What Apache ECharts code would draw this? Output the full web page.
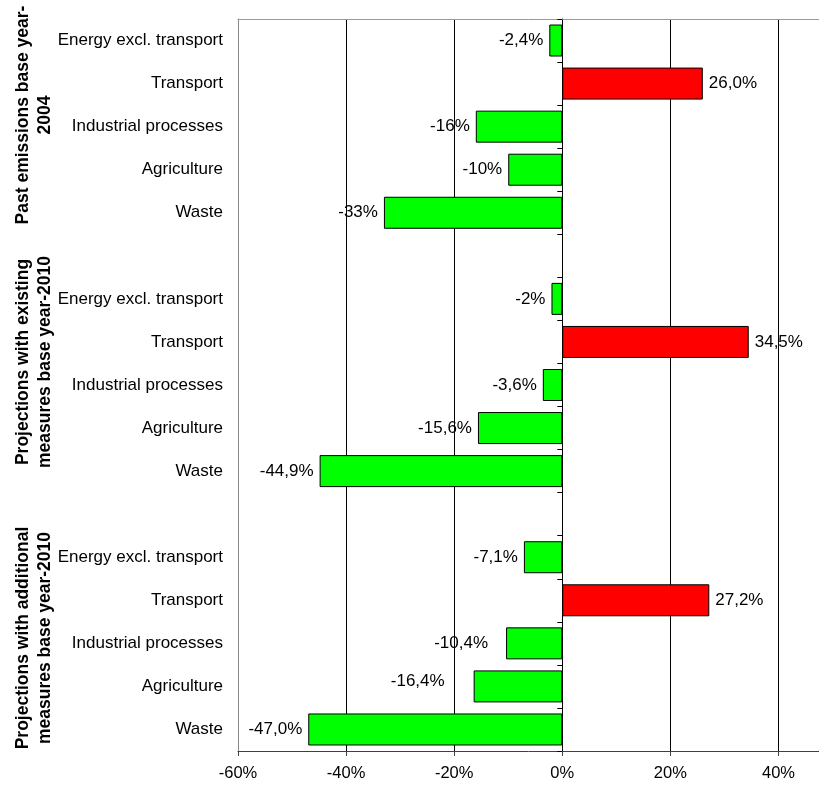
<!DOCTYPE html>
<html>
<head>
<meta charset="utf-8">
<script src="https://cdn.jsdelivr.net/npm/echarts@6/dist/echarts.min.js"></script>
<style>html,body{margin:0;padding:0;background:#fff;}#c{width:819px;height:785px;}</style>
</head>
<body>
<div id="c"></div>
<script>
var sectors = ['Energy excl. transport', 'Transport', 'Industrial processes', 'Agriculture', 'Waste'];
var groups = ['Past emissions base year-\n2004', 'Projections with existing\nmeasures base year-2010', 'Projections with additional\nmeasures base year-2010'];
var pastValues = [-2.4, 26.0, -16, -10, -33];
var existingValues = [-2, 34.5, -3.6, -15.6, -44.9];
var additionalValues = [-7.1, 27.2, -10.4, -16.4, -47.0];
var pastLabels = ['-2,4%', '26,0%', '-16%', '-10%', '-33%'];
var existingLabels = ['-2%', '34,5%', '-3,6%', '-15,6%', '-44,9%'];
var additionalLabels = ['-7,1%', '27,2%', '-10,4%', '-16,4%', '-47,0%'];

var categories = [], data = [];
var allVals = [pastValues, existingValues, additionalValues];
var allLabels = [pastLabels, existingLabels, additionalLabels];
// manual label nudges seen in the reference (group, sector) -> [dx, dy]
var labelNudge = { '2-2': [-12, 0], '2-3': [-23, -5] };
for (var g = 0; g < 3; g++) {
  for (var i = 0; i < sectors.length; i++) {
    categories.push(sectors[i]);
    var v = allVals[g][i];
    data.push({
      value: v,
      itemStyle: { color: v >= 0 ? '#ff0000' : '#00ff00' },
      label: { position: v >= 0 ? 'right' : 'left', formatter: allLabels[g][i],
        offset: labelNudge[g + '-' + i] || [0, 0] }
    });
  }
  if (g < 2) { categories.push(' '); data.push({ value: null }); }
}

var chart = echarts.init(document.getElementById('c'), null, { renderer: 'canvas' });
var groupCenters = [115, 362, 638];
var graphics = groups.map(function (t, k) {
  return {
    type: 'text', x: 34, y: groupCenters[k], rotation: Math.PI / 2,
    style: { text: t, font: 'bold 17.5px "Liberation Sans", Arial, sans-serif', fill: '#000',
      textAlign: 'center', textVerticalAlign: 'middle', lineHeight: 22 }
  };
});
chart.setOption({
  animation: false,
  graphic: graphics,
  grid: { left: 238, top: 19, right: 0, height: 732, show: false },
  xAxis: [{
    type: 'value', min: -60, max: 47.5, interval: 20, position: 'bottom',
    axisLine: { show: true, onZero: false, lineStyle: { color: '#404040', width: 1 } },
    axisTick: { show: true, length: 5, lineStyle: { color: '#404040' } },
    axisLabel: { formatter: '{value}%', showMaxLabel: false, color: '#000', fontSize: 16.5, margin: 14,
      fontFamily: '"Liberation Sans", Arial, sans-serif' },
    splitLine: { show: true, showMaxLine: false, showMinLine: false, lineStyle: { color: '#000', width: 1 } }
  }, {
    type: 'value', min: -60, max: 47.5, interval: 20, position: 'top',
    axisLine: { show: true, onZero: false, lineStyle: { color: '#999', width: 1 } },
    axisTick: { show: false }, axisLabel: { show: false }, splitLine: { show: false }
  }],
  yAxis: [{
    type: 'category', data: categories, inverse: true, position: 'left',
    axisLine: { show: true, onZero: false, lineStyle: { color: '#888' } },
    axisTick: { show: false },
    axisLabel: { color: '#000', fontSize: 17, margin: 15, fontFamily: '"Liberation Sans", Arial, sans-serif' }
  }, {
    type: 'category', data: categories, inverse: true, position: 'left',
    axisLine: { show: true, onZero: true, onZeroAxisIndex: 0, lineStyle: { color: '#000' } },
    axisTick: { show: true, length: 5, lineStyle: { color: '#000' } },
    axisLabel: { show: false }
  }],
  series: [{
    type: 'bar', xAxisIndex: 0, yAxisIndex: 0, data: data, barWidth: 32,
    itemStyle: { borderColor: '#000', borderWidth: 1 },
    label: { show: true, color: '#000', fontSize: 17, distance: 6, fontFamily: '"Liberation Sans", Arial, sans-serif' }
  }]
});
</script>
</body>
</html>
